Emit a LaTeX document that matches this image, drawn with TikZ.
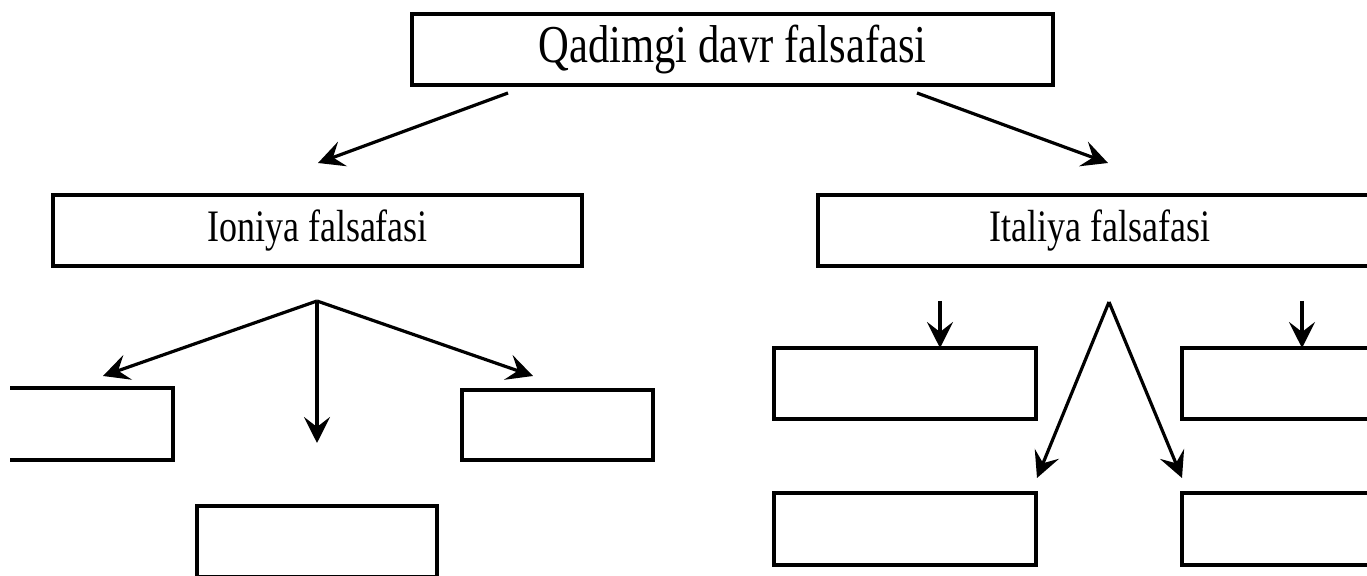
\documentclass[tikz,border=0pt]{standalone}
\usepackage{fontspec}
\setmainfont{Liberation Serif}
\usetikzlibrary{arrows.meta}
\newcommand{\tallText}[1]{\scalebox{1}[1.25]{#1}}
\begin{document}
\begin{tikzpicture}[x=0.5pt,y=-0.5pt,
  box/.style={draw=black,line width=2.2pt,inner sep=0pt,outer sep=0pt,fill=none},
  bigtext/.style={font=\fontsize{21.3pt}{24pt}\selectfont},
  midtext/.style={font=\fontsize{18pt}{20pt}\selectfont},
  arr/.style={line width=1.6pt,-{Stealth[length=13pt,width=13pt,inset=5pt]}}]
\useasboundingbox (0,0) rectangle (1367,576);
\clip (10,0) rectangle (1367,576);
% boxes
\node[box,bigtext,minimum width=320.5pt,minimum height=35.5pt] (top) at (732.5,49.5) {\tallText{Qadimgi davr falsafasi}};
\node[box,midtext,minimum width=264.5pt,minimum height=35.5pt] (ion) at (317.5,230.5) {\tallText{Ioniya falsafasi}};
\node[box,midtext,minimum width=282pt,minimum height=35.5pt] (ita) at (1100,230.5) {\tallText{Italiya falsafasi}};
\node[box,minimum width=96.5pt,minimum height=36pt] (l1) at (76.5,424) {};
\node[box,minimum width=120pt,minimum height=35.5pt] (l2) at (317,541.5) {};
\node[box,minimum width=95.5pt,minimum height=35pt] (l3) at (557.5,425) {};
\node[box,minimum width=131pt,minimum height=35.5pt] (r1) at (905,383.5) {};
\node[box,minimum width=109pt,minimum height=35.5pt] (r2) at (1291,383.5) {};
\node[box,minimum width=131pt,minimum height=36pt] (r3) at (905,529) {};
\node[box,minimum width=109pt,minimum height=36pt] (r4) at (1291,529) {};
% connector ends
\coordinate (tA) at (508,93);
\coordinate (tB) at (917,93);
\coordinate (ionTip) at (318,163);
\coordinate (itaTip) at (1108,163);
\coordinate (ionApex) at (317,301);
\coordinate (l1Tip) at (103,376);
\coordinate (l2Tip) at (317,443);
\coordinate (l3Tip) at (533,376);
\coordinate (itaApex) at (1109,302);
\coordinate (r3Tip) at (1037,478);
\coordinate (r4Tip) at (1182,478);
\coordinate (r1Start) at (940,301);
\coordinate (r1Tip) at (940,348);
\coordinate (r2Start) at (1302,301);
\coordinate (r2Tip) at (1302,348);
% arrows
\draw[arr] (tA) -- (ionTip);
\draw[arr] (tB) -- (itaTip);
\draw[arr] (ionApex) -- (l1Tip);
\draw[arr] (ionApex) -- (l2Tip);
\draw[arr] (ionApex) -- (l3Tip);
\draw[arr] (itaApex) -- (r3Tip);
\draw[arr] (itaApex) -- (r4Tip);
\draw[arr] (r1Start) -- (r1Tip);
\draw[arr] (r2Start) -- (r2Tip);
\end{tikzpicture}
\end{document}
